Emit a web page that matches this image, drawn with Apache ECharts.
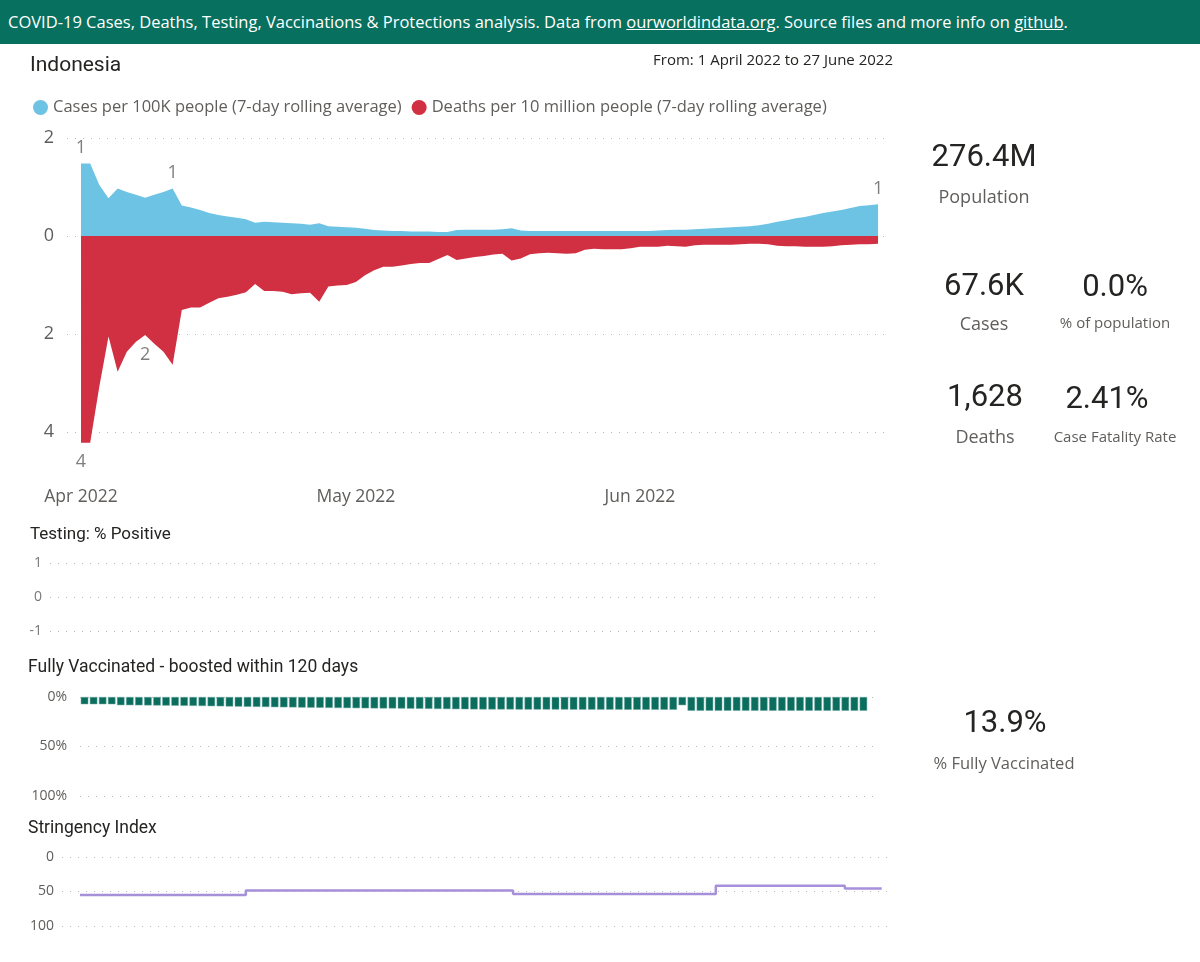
<!DOCTYPE html>
<html>
<head>
<meta charset="utf-8">
<script src="https://cdn.jsdelivr.net/npm/echarts@6/dist/echarts.min.js"></script>
<style>
  body { margin: 0; background: #fff; }
  #header {
    position: absolute; left: 0; top: 0; width: 1200px; height: 44px; z-index: 2;
    background: #08705f; color: #fff; font: 16.5px "Open Sans", sans-serif;
    line-height: 44px; padding-left: 8px; box-sizing: border-box; white-space: nowrap;
  }
  #header u { text-decoration: underline; }
  #main { position: absolute; left: 0; top: 0; width: 1200px; height: 962px; }
</style>
</head>
<body>
<div id="header">COVID-19 Cases, Deaths, Testing, Vaccinations &amp; Protections analysis. Data from <u>ourworldindata.org</u>. Source files and more info on <u>github</u>.</div>
<div id="main"></div>
<script>
  // x domain: 1 April 2022 .. 27 June 2022 (88 days)
  var startDate = new Date(2022, 3, 1);
  var dates = [];
  for (var d = 0; d < 88; d++) {
    var dt = new Date(startDate.getTime() + d * 86400000);
    dates.push(dt.getFullYear() + "-" + (dt.getMonth() + 1) + "-" + dt.getDate());
  }
  var monthTicks = [0, 30, 61];
  var monthLabels = ["Apr 2022", "May 2022", "Jun 2022"];

  // cases per 100K people (7-day rolling average)
  var casesPer100k = [
    1.48, 1.48, 1.04, 0.77, 0.97, 0.90, 0.84, 0.78, 0.84, 0.90,
    0.97, 0.62, 0.58, 0.53, 0.47, 0.43, 0.40, 0.37, 0.34, 0.27,
    0.29, 0.28, 0.27, 0.26, 0.25, 0.23, 0.26, 0.20, 0.19, 0.18,
    0.17, 0.15, 0.12, 0.11, 0.10, 0.10, 0.09, 0.09, 0.09, 0.08,
    0.08, 0.12, 0.13, 0.13, 0.13, 0.13, 0.14, 0.16, 0.11, 0.10,
    0.10, 0.10, 0.10, 0.10, 0.10, 0.10, 0.10, 0.10, 0.10, 0.10,
    0.10, 0.10, 0.10, 0.11, 0.12, 0.13, 0.13, 0.14, 0.15, 0.16,
    0.17, 0.18, 0.19, 0.20, 0.22, 0.25, 0.29, 0.32, 0.36, 0.39,
    0.43, 0.47, 0.50, 0.53, 0.57, 0.61, 0.63, 0.65
  ];
  // deaths per 10 million people (7-day rolling average), drawn below zero
  var deathsPer10m = [
    4.22, 4.22, 3.07, 2.05, 2.77, 2.36, 2.16, 2.02, 2.20, 2.36,
    2.63, 1.51, 1.46, 1.46, 1.36, 1.27, 1.24, 1.20, 1.15, 0.98,
    1.12, 1.12, 1.14, 1.19, 1.17, 1.16, 1.34, 1.03, 1.01, 1.00,
    0.94, 0.80, 0.70, 0.63, 0.63, 0.60, 0.57, 0.55, 0.55, 0.47,
    0.39, 0.49, 0.46, 0.43, 0.41, 0.38, 0.36, 0.50, 0.46, 0.37,
    0.35, 0.34, 0.35, 0.36, 0.35, 0.28, 0.26, 0.27, 0.27, 0.27,
    0.25, 0.22, 0.22, 0.22, 0.20, 0.21, 0.22, 0.19, 0.18, 0.18,
    0.18, 0.18, 0.17, 0.16, 0.16, 0.17, 0.20, 0.21, 0.21, 0.22,
    0.22, 0.22, 0.21, 0.19, 0.18, 0.17, 0.17, 0.16
  ];
  var caseLabelDays = [0, 10, 87];
  var deathLabelDays = [0, 7];

  // no testing data for this period
  var testingPositive = [];

  // % fully vaccinated & boosted within 120 days (last day missing)
  var boostedPct = [
    7.3, 7.3, 7.3, 7.3, 8.3, 8.3, 8.4, 8.5, 8.6, 8.7,
    8.8, 8.9, 9.0, 9.1, 9.3, 9.4, 9.6, 9.7, 9.9, 10.0,
    10.1, 10.3, 10.4, 10.5, 10.7, 10.8, 10.9, 11.0, 11.1, 11.2,
    11.3, 11.4, 11.5, 11.6, 11.6, 11.7, 11.8, 11.9, 12.0, 12.1,
    12.2, 12.3, 12.4, 12.5, 12.6, 12.6, 12.6, 12.6, 12.7, 12.7,
    12.7, 12.7, 12.7, 12.7, 12.8, 12.8, 12.8, 12.8, 12.8, 12.8,
    12.9, 12.9, 12.9, 12.9, 12.9, 12.9, 8.3, 13.9, 13.9, 13.9,
    13.9, 13.9, 13.9, 13.9, 13.9, 13.9, 13.9, 13.9, 13.9, 13.9,
    13.9, 13.9, 13.9, 13.9, 13.9, 13.9, 13.9
  ];

  // stringency index
  var stringency = [
    55.1, 55.1, 55.1, 55.1, 55.1, 55.1, 55.1, 55.1, 55.1, 55.1,
    55.1, 55.1, 55.1, 55.1, 55.1, 55.1, 55.1, 55.1, 48.6, 48.6,
    48.6, 48.6, 48.6, 48.6, 48.6, 48.6, 48.6, 48.6, 48.6, 48.6,
    48.6, 48.6, 48.6, 48.6, 48.6, 48.6, 48.6, 48.6, 48.6, 48.6,
    48.6, 48.6, 48.6, 48.6, 48.6, 48.6, 48.6, 53.7, 53.7, 53.7,
    53.7, 53.7, 53.7, 53.7, 53.7, 53.7, 53.7, 53.7, 53.7, 53.7,
    53.7, 53.7, 53.7, 53.7, 53.7, 53.7, 53.7, 53.7, 53.7, 41.6,
    41.6, 41.6, 41.6, 41.6, 41.6, 41.6, 41.6, 41.6, 41.6, 41.6,
    41.6, 41.6, 41.6, 45.8, 45.8, 45.8, 45.8, 45.8
  ];

  var SEGOE = '"Open Sans", "Noto Sans", sans-serif';
  var DIN = 'Roboto, "DejaVu Sans", sans-serif';
  var GREY = "#605E5C";
  var DARK = "#252423";
  var casesColor = "#6DC3E3";
  var deathsColor = "#D12F42";
  var caseName = "Cases per 100K people (7-day rolling average)";
  var deathName = "Deaths per 10 million people (7-day rolling average)";

  var gridDots = { lineStyle: { type: [1, 7], color: "#B8B8B8", width: 1 } };

  function pairs(arr, sign) {
    return arr.map(function (v, i) { return [i, sign * v]; });
  }
  function picked(arr, days, sign) {
    return days.map(function (i) { return [i, sign * arr[i]]; });
  }
  function txt(x, y, text, size, family, fill, align) {
    return {
      type: "text", x: x, y: y, silent: true,
      style: { text: text, fontSize: size, fontFamily: family, fill: fill,
               align: align || "left", verticalAlign: "middle" }
    };
  }

  var chart = echarts.init(document.getElementById("main"));
  chart.setOption({
    animation: false,
    textStyle: { fontFamily: SEGOE },
    legend: {
      left: 28, top: 94, icon: "circle", itemWidth: 15, itemHeight: 15, itemGap: 10,
      textStyle: { color: GREY, fontSize: 16.5, fontFamily: SEGOE },
      data: [caseName, deathName]
    },
    grid: [
      { left: 67, top: 138, width: 818, height: 294 },
      { left: 50, top: 563, width: 830, height: 68 },
      { left: 80, top: 697, width: 797, height: 99 },
      { left: 62, top: 857, width: 831, height: 69 }
    ],
    xAxis: [
      {
        gridIndex: 0, type: "value", min: -1.53, max: 87.76,
        axisLine: { show: false }, axisTick: { show: false }, splitLine: { show: false },
        axisLabel: {
          customValues: monthTicks, margin: 56, color: GREY, fontSize: 17.5,
          formatter: function (v) { return monthLabels[monthTicks.indexOf(v)]; }
        }
      },
      { gridIndex: 1, type: "value", min: 0, max: 87, show: false },
      { gridIndex: 2, type: "category", data: dates, show: false },
      { gridIndex: 3, type: "value", min: -1.95, max: 88.23, show: false }
    ],
    yAxis: [
      {
        gridIndex: 0, type: "value", min: -4, max: 2, interval: 2,
        axisLine: { show: false }, axisTick: { show: false }, splitLine: gridDots,
        axisLabel: { color: GREY, fontSize: 18, margin: 13,
          formatter: function (v) { return Math.abs(v); } }
      },
      {
        gridIndex: 1, type: "value", min: -1, max: 1, interval: 1,
        axisLine: { show: false }, axisTick: { show: false }, splitLine: gridDots,
        axisLabel: { color: "#777", fontSize: 14, margin: 8 }
      },
      {
        gridIndex: 2, type: "value", min: 0, max: 100, interval: 50, inverse: true,
        axisLine: { show: false }, axisTick: { show: false }, splitLine: gridDots,
        axisLabel: { color: GREY, fontSize: 14, margin: 13, formatter: "{value}%" }
      },
      {
        gridIndex: 3, type: "value", min: 0, max: 100, interval: 50, inverse: true,
        axisLine: { show: false }, axisTick: { show: false }, splitLine: gridDots,
        axisLabel: { color: GREY, fontSize: 14, margin: 8 }
      }
    ],
    series: [
      {
        name: caseName, type: "line", xAxisIndex: 0, yAxisIndex: 0,
        data: pairs(casesPer100k, 1), symbol: "none",
        lineStyle: { width: 0 }, itemStyle: { color: casesColor },
        areaStyle: { color: casesColor, opacity: 1 }
      },
      {
        name: deathName, type: "line", xAxisIndex: 0, yAxisIndex: 0,
        data: pairs(deathsPer10m, -1), symbol: "none", clip: false,
        lineStyle: { width: 0 }, itemStyle: { color: deathsColor },
        areaStyle: { color: deathsColor, opacity: 1 }
      },
      {
        name: "caseLabels", type: "scatter", xAxisIndex: 0, yAxisIndex: 0,
        data: picked(casesPer100k, caseLabelDays, 1), symbolSize: 1, clip: false,
        itemStyle: { color: "rgba(0,0,0,0)" }, silent: true,
        label: { show: true, position: "top", distance: 6, color: GREY, fontSize: 18,
          formatter: function (p) { return Math.round(Math.abs(p.value[1])); } }
      },
      {
        name: "deathLabels", type: "scatter", xAxisIndex: 0, yAxisIndex: 0,
        data: picked(deathsPer10m, deathLabelDays, -1), symbolSize: 1, clip: false,
        itemStyle: { color: "rgba(0,0,0,0)" }, silent: true,
        label: { show: true, position: "bottom", distance: 10, color: GREY, fontSize: 18,
          formatter: function (p) { return Math.round(Math.abs(p.value[1])); } }
      },
      {
        name: "Testing: % Positive", type: "line", xAxisIndex: 1, yAxisIndex: 1,
        data: testingPositive
      },
      {
        name: "Fully Vaccinated - boosted within 120 days", type: "bar",
        xAxisIndex: 2, yAxisIndex: 2, data: boostedPct, barWidth: 7.5,
        itemStyle: { color: "#0A6D5E", borderColor: "#6FA9A0", borderWidth: 0.5 }
      },
      {
        name: "Stringency Index", type: "line", xAxisIndex: 3, yAxisIndex: 3,
        data: pairs(stringency, 1), step: "end", symbol: "none",
        lineStyle: { color: "#A690D9", width: 2.5 }
      }
    ],
    graphic: [
      txt(30, 66, "Indonesia", 21, DIN, DARK),
      txt(893, 61, "From: 1 April 2022 to 27 June 2022", 15, SEGOE, DARK, "right"),
      txt(30, 535, "Testing: % Positive", 17, DIN, DARK),
      txt(28, 668, "Fully Vaccinated - boosted within 120 days", 17.5, DIN, DARK),
      txt(28, 829, "Stringency Index", 17.5, DIN, DARK),

      txt(984, 158, "276.4M", 31, DIN, DARK, "center"),
      txt(984, 198, "Population", 18, SEGOE, GREY, "center"),
      txt(984, 287, "67.6K", 31, DIN, DARK, "center"),
      txt(984, 325, "Cases", 18, SEGOE, GREY, "center"),
      txt(1115, 288, "0.0%", 31, DIN, DARK, "center"),
      txt(1115, 324, "% of population", 15, SEGOE, GREY, "center"),
      txt(985, 398, "1,628", 31, DIN, DARK, "center"),
      txt(985, 438, "Deaths", 18, SEGOE, GREY, "center"),
      txt(1107, 400, "2.41%", 31, DIN, DARK, "center"),
      txt(1115, 438, "Case Fatality Rate", 15, SEGOE, GREY, "center"),
      txt(1005, 724, "13.9%", 31, DIN, DARK, "center"),
      txt(1004, 764, "% Fully Vaccinated", 16.5, SEGOE, GREY, "center")
    ]
  });
</script>
</body>
</html>
